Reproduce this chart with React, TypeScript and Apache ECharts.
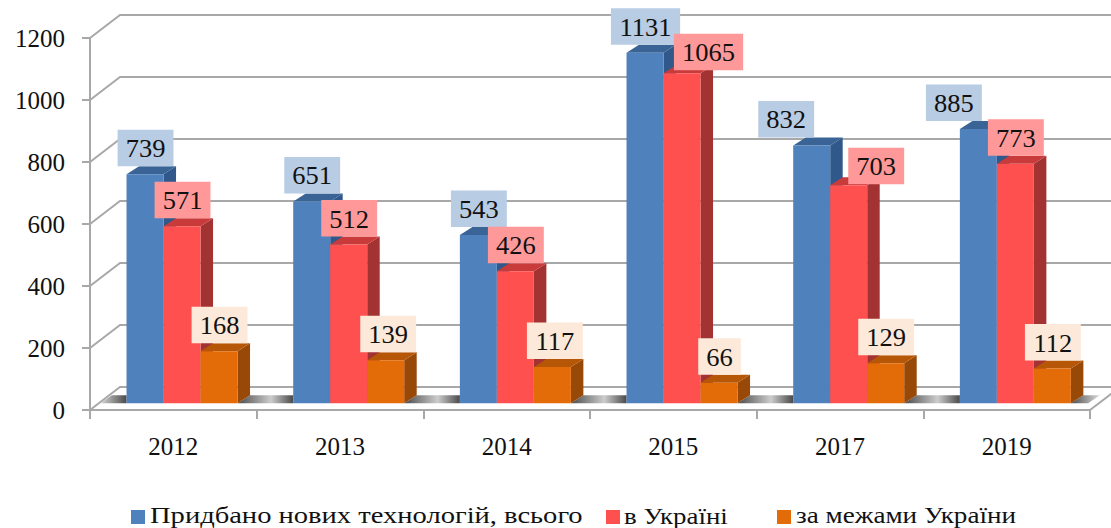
import React, { useEffect, useRef } from "react";
import * as echarts from "echarts";

const categories = ["2012", "2013", "2014", "2015", "2017", "2019"];
const totalValues = [739, 651, 543, 1131, 832, 885];
const ukraineValues = [571, 512, 426, 1065, 703, 773];
const abroadValues = [168, 139, 117, 66, 129, 112];
const yTicks = [0, 200, 400, 600, 800, 1000, 1200];
const seriesNames = ["Придбано нових технологій, всього", "в Україні", "за межами України"];

const FONT = '"Liberation Serif", "Times New Roman", serif';
const BAR_W = 37;
const SIDE_DX = 12.5;
const SIDE_DY = 8;
const BASE_DX = 8.7;
const BASE_DY = 6.7;
const WALL_DX = 30;
const WALL_DY = 23;
const GRAY = "#a8a8a8";

const palettes = [
  { front: "#4f81bd", top: "#3a6496", side: "#30588a", label: "#b8cce4" },
  { front: "#ff5050", top: "#c93a3a", side: "#a33232", label: "#ff9999" },
  { front: "#e36c09", top: "#b55707", side: "#984807", label: "#fde9d9" },
];

// hand-placed labels in the reference: "slot-category" -> [dx, dy]
const labelNudges: Record<string, number[]> = {
  "0-4": [-26, 0],
  "0-5": [-25, 0],
  "1-3": [26, 5],
  "1-4": [27, 7],
  "2-1": [2, 0],
  "2-2": [2, 0],
};

const legendLayout = [
  { mark: 131, text: 150, scale: 1.19 },
  { mark: 606, text: 624, scale: 1.12 },
  { mark: 777, text: 796, scale: 1.13 },
];

const barGeom = (api: any, slot: number) => {
  const cat = api.value(0);
  const val = api.value(1);
  const p0 = api.coord([cat, 0]);
  const p1 = api.coord([cat, val]);
  const left = p0[0] + BASE_DX + (slot - 1.5) * BAR_W;
  const bottom = p0[1] - BASE_DY;
  const top = bottom - (p0[1] - p1[1]);
  return { left, bottom, top, val, cat };
};

const barSeries = (name: string, values: number[], slot: number) => ({
  type: "custom",
  name,
  z: 3,
  silent: true,
  itemStyle: { color: palettes[slot].front },
  encode: { x: 0, y: 1 },
  data: values.map((v, i) => [i, v]),
  renderItem: (_p: any, api: any) => {
    const { left, bottom, top } = barGeom(api, slot);
    const right = left + BAR_W;
    const c = palettes[slot];
    return {
      type: "group",
      children: [
        { type: "polygon", shape: { points: [[right, bottom], [right + SIDE_DX, bottom - SIDE_DY], [right + SIDE_DX, top - SIDE_DY], [right, top]] }, style: { fill: c.side } },
        { type: "polygon", shape: { points: [[left, top], [left + SIDE_DX, top - SIDE_DY], [right + SIDE_DX, top - SIDE_DY], [right, top]] }, style: { fill: c.top } },
        { type: "rect", shape: { x: left, y: top, width: BAR_W, height: bottom - top }, style: { fill: c.front } },
      ],
    };
  },
});

const labelSeries = (values: number[], slot: number) => ({
  type: "custom",
  z: 6 + slot,
  silent: true,
  encode: { x: 0, y: 1 },
  data: values.map((v, i) => [i, v]),
  renderItem: (_p: any, api: any) => {
    const { left, top, val, cat } = barGeom(api, slot);
    const [ndx, ndy] = labelNudges[`${slot}-${cat}`] || [0, 0];
    const text = String(val);
    const w = text.length * 13.3 + 16;
    const h = 36.5;
    const cx = left + BAR_W / 2 + 0.5 + ndx;
    const bottom = top - SIDE_DY + ndy;
    return {
      type: "group",
      children: [
        { type: "rect", shape: { x: cx - w / 2, y: bottom - h, width: w, height: h }, style: { fill: palettes[slot].label } },
        {
          type: "text",
          x: cx,
          y: bottom - h / 2 + 1,
          scaleX: 1.06,
          style: { text, fill: "#111", font: `25px ${FONT}`, textAlign: "center", textVerticalAlign: "middle" },
        },
      ],
    };
  },
});

const wallSeries = {
  type: "custom",
  z: 1,
  silent: true,
  encode: { x: 0, y: 1 },
  data: yTicks.map((v) => [0, v]),
  renderItem: (p: any, api: any) => {
    const y = api.coord([0, api.value(1)])[1];
    const x0 = p.coordSys.x;
    const x1 = x0 + p.coordSys.width;
    const isFloor = api.value(1) === 0;
    const children: any[] = [
      {
        type: "polyline",
        shape: { points: [[x0, y], [x0 + WALL_DX, y - WALL_DY], [x1 + WALL_DX, y - WALL_DY]] },
        style: { stroke: GRAY, lineWidth: 2, fill: "none" },
      },
    ];
    if (isFloor) {
      children.push({
        type: "line",
        shape: { x1, y1: y, x2: x1 + WALL_DX, y2: y - WALL_DY },
        style: { stroke: GRAY, lineWidth: 2 },
      });
    }
    return { type: "group", children };
  },
};

const gapGradient = () =>
  new echarts.graphic.LinearGradient(0, 0, 1, 0, [
    { offset: 0, color: "#4a4a4a" },
    { offset: 0.6, color: "#cccccc" },
    { offset: 1, color: "#4a4a4a" },
  ]);

const floorShadowSeries = {
  type: "custom",
  z: 2,
  silent: true,
  encode: { x: 0, y: 1 },
  data: categories.map((_c, i) => [i, 0]),
  renderItem: (p: any, api: any) => {
    const i = api.value(0);
    const p0 = api.coord([i, 0]);
    const bottom = p0[1] - BASE_DY;
    const topY = bottom - SIDE_DY;
    const barsLeft = p0[0] + BASE_DX - 1.5 * BAR_W;
    const barsRight = barsLeft + 3 * BAR_W;
    const children: any[] = [];
    const band = p.coordSys.width / categories.length;
    const nextLeft = barsLeft + band;
    if (i === 0) {
      children.push({
        type: "polygon",
        shape: { points: [[100, bottom], [112, topY], [barsLeft, topY], [barsLeft, bottom]] },
        style: { fill: new echarts.graphic.LinearGradient(0, 0, 1, 0, [{ offset: 0, color: "#d8d8d8" }, { offset: 1, color: "#4a4a4a" }]) },
      });
    }
    const last = i === categories.length - 1;
    children.push({
      type: "polygon",
      shape: {
        points: last
          ? [[barsRight, bottom], [barsRight + SIDE_DX, topY], [1100, topY], [1088, bottom]]
          : [[barsRight, bottom], [barsRight + SIDE_DX, topY], [nextLeft, topY], [nextLeft, bottom]],
      },
      style: {
        fill: last
          ? new echarts.graphic.LinearGradient(0, 0, 1, 0, [{ offset: 0, color: "#4a4a4a" }, { offset: 1, color: "#dddddd" }])
          : gapGradient(),
      },
    });
    return { type: "group", children };
  },
};

const legendGraphics = seriesNames.flatMap((name, i) => [
  {
    type: "rect",
    shape: { x: legendLayout[i].mark, y: 510, width: 14, height: 14 },
    style: { fill: palettes[i].front },
  },
  {
    type: "text",
    x: legendLayout[i].text,
    y: 515.5,
    scaleX: legendLayout[i].scale,
    style: { text: name, fill: "#111", font: `24px ${FONT}`, textAlign: "left", textVerticalAlign: "middle" },
  },
]);

export default function App() {
  const ref = useRef<HTMLDivElement>(null);
  useEffect(() => {
    const chart = echarts.init(ref.current!, undefined, { renderer: "svg" });
    chart.setOption({
      animation: false,
      backgroundColor: "#ffffff",
      grid: { left: 90, top: 38, width: 1000, height: 372, containLabel: false },
      graphic: legendGraphics,
      xAxis: {
        type: "category",
        data: categories,
        boundaryGap: true,
        axisLine: { lineStyle: { color: GRAY, width: 2 } },
        axisTick: { show: true, length: 9, lineStyle: { color: GRAY, width: 2 } },
        axisLabel: { margin: 24, fontFamily: FONT, fontSize: 25, color: "#111", formatter: (v: string) => v },
        splitLine: { show: false },
      },
      yAxis: {
        type: "value",
        min: 0,
        max: 1200,
        interval: 200,
        axisLine: { show: true, lineStyle: { color: GRAY, width: 2 } },
        axisTick: { show: true, length: 8, lineStyle: { color: GRAY, width: 2 } },
        axisLabel: { margin: 25, fontFamily: FONT, fontSize: 25, color: "#111", formatter: (v: number) => String(v) },
        splitLine: { show: false },
      },
      series: [
        wallSeries,
        floorShadowSeries,
        barSeries(seriesNames[0], totalValues, 0),
        barSeries(seriesNames[1], ukraineValues, 1),
        barSeries(seriesNames[2], abroadValues, 2),
        labelSeries(totalValues, 0),
        labelSeries(ukraineValues, 1),
        labelSeries(abroadValues, 2),
      ],
    });
    return () => chart.dispose();
  }, []);
  return <div ref={ref} style={{ position: "fixed", left: 0, top: 0, width: 1111, height: 528 }} />;
}
